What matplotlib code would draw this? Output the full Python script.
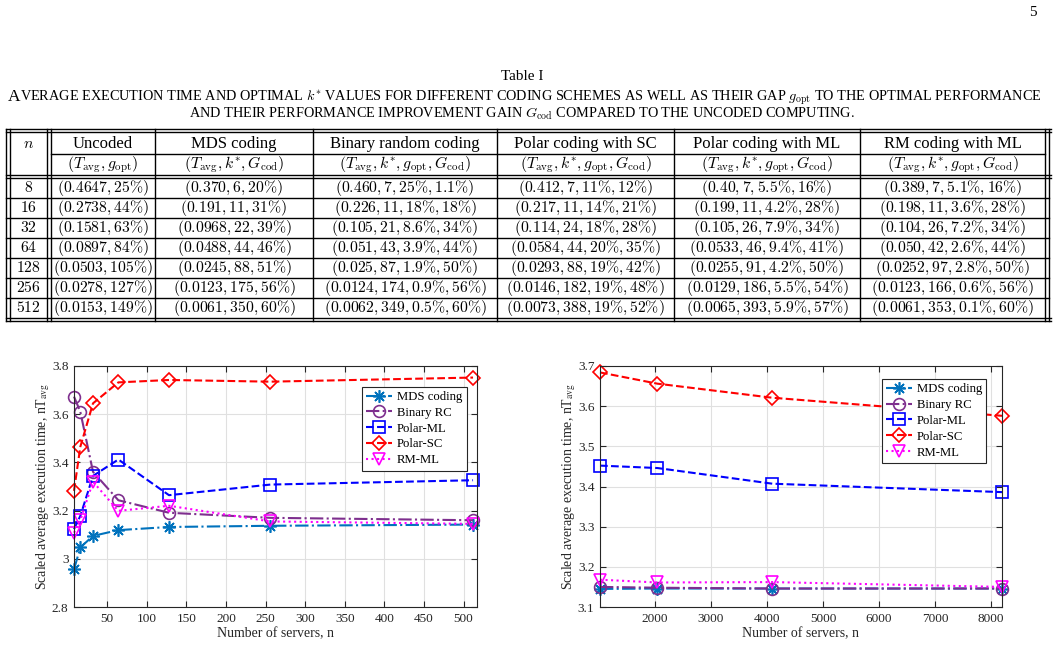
import matplotlib
matplotlib.use('Agg')
import matplotlib.pyplot as plt
from matplotlib.ticker import FuncFormatter

plt.rcParams['font.family'] = ['Liberation Serif', 'DejaVu Serif']
plt.rcParams['mathtext.fontset'] = 'cm'

W, H = 1057, 650

# ---------------- table data ----------------
n_rows = ['8', '16', '32', '64', '128', '256', '512']
col_titles = ['Uncoded', 'MDS coding', 'Binary random coding',
              'Polar coding with SC', 'Polar coding with ML', 'RM coding with ML']
col_subtitles = [r'$(T_{\rm avg}, g_{\rm opt})$',
                 r'$(T_{\rm avg}, k^{*}, G_{\rm cod})$',
                 r'$(T_{\rm avg}, k^{*}, g_{\rm opt}, G_{\rm cod})$',
                 r'$(T_{\rm avg}, k^{*}, g_{\rm opt}, G_{\rm cod})$',
                 r'$(T_{\rm avg}, k^{*}, g_{\rm opt}, G_{\rm cod})$',
                 r'$(T_{\rm avg}, k^{*}, g_{\rm opt}, G_{\rm cod})$']
uncoded = ['0.4647, 25%', '0.2738, 44%', '0.1581, 63%', '0.0897, 84%',
           '0.0503, 105%', '0.0278, 127%', '0.0153, 149%']
mds = ['0.370, 6, 20%', '0.191, 11, 31%', '0.0968, 22, 39%', '0.0488, 44, 46%',
       '0.0245, 88, 51%', '0.0123, 175, 56%', '0.0061, 350, 60%']
binary_rc = ['0.460, 7, 25%, 1.1%', '0.226, 11, 18%, 18%', '0.105, 21, 8.6%, 34%',
             '0.051, 43, 3.9%, 44%', '0.025, 87, 1.9%, 50%', '0.0124, 174, 0.9%, 56%',
             '0.0062, 349, 0.5%, 60%']
polar_sc = ['0.412, 7, 11%, 12%', '0.217, 11, 14%, 21%', '0.114, 24, 18%, 28%',
            '0.0584, 44, 20%, 35%', '0.0293, 88, 19%, 42%', '0.0146, 182, 19%, 48%',
            '0.0073, 388, 19%, 52%']
polar_ml = ['0.40, 7, 5.5%, 16%', '0.199, 11, 4.2%, 28%', '0.105, 26, 7.9%, 34%',
            '0.0533, 46, 9.4%, 41%', '0.0255, 91, 4.2%, 50%', '0.0129, 186, 5.5%, 54%',
            '0.0065, 393, 5.9%, 57%']
rm_ml = ['0.389, 7, 5.1%, 16%', '0.198, 11, 3.6%, 28%', '0.104, 26, 7.2%, 34%',
         '0.050, 42, 2.6%, 44%', '0.0252, 97, 2.8%, 50%', '0.0123, 166, 0.6%, 56%',
         '0.0061, 353, 0.1%, 60%']
table_cols = [uncoded, mds, binary_rc, polar_sc, polar_ml, rm_ml]

# ---------------- plot data ----------------
labels = ['MDS coding', 'Binary RC', 'Polar-ML', 'Polar-SC', 'RM-ML']

n_small = [8, 16, 32, 64, 128, 256, 512]
mds_small = [2.956, 3.047, 3.095, 3.119, 3.132, 3.137, 3.142]
binary_small = [3.673, 3.610, 3.361, 3.243, 3.191, 3.170, 3.160]
polar_ml_small = [3.123, 3.178, 3.344, 3.412, 3.264, 3.308, 3.326]
polar_sc_small = [3.282, 3.465, 3.645, 3.732, 3.742, 3.735, 3.752]
rm_ml_small = [3.108, 3.160, 3.320, 3.199, 3.220, 3.155, 3.145]

n_large = [1024, 2048, 4096, 8192]
mds_large = [3.145, 3.146, 3.146, 3.146]
binary_large = [3.150, 3.148, 3.146, 3.146]
polar_ml_large = [3.452, 3.446, 3.407, 3.386]
polar_sc_large = [3.684, 3.656, 3.621, 3.576]
rm_ml_large = [3.168, 3.161, 3.162, 3.150]

styles = [
    dict(color='#0072BD', ls='-.', marker=(8, 2, 0), ms=9, mew=1.2),
    dict(color='#7E2F8E', ls='-.', marker='o', ms=8.5, mfc='none', mew=1.2),
    dict(color='#0000FF', ls='--', marker='s', ms=8, mfc='none', mew=1.2),
    dict(color='#FF0000', ls='--', marker='D', ms=7, mfc='none', mew=1.2),
    dict(color='#FF00FF', ls=':', marker='v', ms=9, mfc='none', mew=1.2),
]

fig = plt.figure(figsize=(W / 100, H / 100), dpi=100)

# page in pixel coordinates
page = fig.add_axes([0, 0, 1, 1])
page.set_xlim(0, W)
page.set_ylim(H, 0)
page.axis('off')

page.text(1033, 13, '5', fontsize=11, ha='center', va='center')
page.text(522, 76, 'Table I', fontsize=11, ha='center', va='center')

# caption in (fake) small caps
cap_fs = 10.25
renderer = fig.canvas.get_renderer()
a = page.text(8, 101, 'A', fontsize=12.5, ha='left', va='baseline')
aw = a.get_window_extent(renderer).width
page.text(8 + aw, 101,
          r'VERAGE EXECUTION TIME AND OPTIMAL $k^{*}$ VALUES FOR DIFFERENT CODING SCHEMES '
          r'AS WELL AS THEIR GAP $g_{\rm opt}$ TO THE OPTIMAL PERFORMANCE',
          fontsize=cap_fs, ha='left', va='baseline')
page.text(522, 118,
          r'AND THEIR PERFORMANCE IMPROVEMENT GAIN $G_{\rm cod}$ COMPARED TO THE UNCODED COMPUTING.',
          fontsize=cap_fs, ha='center', va='baseline')

# table rules
lw = 1.0
x_left, x_right = 6, 1051
for y in (129, 132, 175, 178, 318, 321):
    page.plot([x_left, x_right], [y, y], color='black', lw=lw)
page.plot([50.5, 1045], [154, 154], color='black', lw=lw)
row_top = 178
row_h = 20
for i in range(1, len(n_rows)):
    y = row_top + i * row_h
    page.plot([6, 1048.5], [y, y], color='black', lw=lw)
col_edges = [9.5, 50.5, 155, 313, 497, 674, 860, 1045]
for x in [6, 9.5, 47, 50.5, 155, 313, 497, 674, 860, 1045, 1048.5]:
    page.plot([x, x], [129, 321], color='black', lw=lw)

hfs = 12
mfs = 11.3
page.text((9.5 + 47) / 2, 144, r'$n$', fontsize=mfs, ha='center', va='center')
for j in range(len(col_titles)):
    cx = (col_edges[j + 1] + col_edges[j + 2]) / 2
    page.text(cx, 144, col_titles[j], fontsize=hfs, ha='center', va='center')
    page.text(cx, 165, col_subtitles[j], fontsize=mfs, ha='center', va='center')
    for i, s in enumerate(table_cols[j]):
        page.text(cx, row_top + (i + 0.5) * row_h, '$(' + s.replace('%', r'\%') + ')$',
                  fontsize=mfs, ha='center', va='center')
for i, s in enumerate(n_rows):
    page.text((9.5 + 47) / 2, row_top + (i + 0.5) * row_h, '$' + s + '$',
              fontsize=mfs, ha='center', va='center')


def ax_rect(x0, y0, x1, y1):
    return [x0 / W, 1 - y1 / H, (x1 - x0) / W, (y1 - y0) / H]


def style_axes(ax):
    for sp in ax.spines.values():
        sp.set_color('0.15')
        sp.set_linewidth(0.8)
    ax.tick_params(direction='in', length=4, width=0.8, colors='0.15',
                   labelsize=9.5, top=True, right=True, pad=4)
    ax.grid(True, color='0.88', lw=0.8)
    ax.set_axisbelow(True)
    ax.yaxis.set_major_formatter(FuncFormatter(lambda v, p: f'{v:g}'))
    ax.set_xlabel('Number of servers, n', fontsize=10, color='0.15', labelpad=2)
    ax.set_ylabel(r'Scaled average execution time, nT$_{\rm avg}$', fontsize=10,
                  color='0.15', math_fontfamily='stix', labelpad=0)


def add_legend(ax, x_right_px, y_top_px, ax_x0, ax_w):
    leg = ax.legend(loc='upper right',
                    bbox_to_anchor=((x_right_px - ax_x0) / ax_w, 1 - (y_top_px - 366) / 241),
                    borderaxespad=0, fontsize=9.2, fancybox=False, framealpha=1,
                    edgecolor='0.15', handlelength=2.0, handletextpad=0.4,
                    labelspacing=0.3, borderpad=0.35)
    leg.get_frame().set_linewidth(0.8)


# left plot
ax1 = fig.add_axes(ax_rect(74, 366, 477, 607))
for ys, lab, st in zip([mds_small, binary_small, polar_ml_small, polar_sc_small, rm_ml_small],
                       labels, styles):
    ax1.plot(n_small, ys, label=lab, lw=1.5, clip_on=False, **st)
ax1.set_xlim(8, 517)
ax1.set_ylim(2.8, 3.8)
ax1.set_xticks(range(50, 501, 50))
ax1.set_yticks([2.8, 3.0, 3.2, 3.4, 3.6, 3.8])
style_axes(ax1)
add_legend(ax1, 467, 386.5, 74, 403)

# right plot
ax2 = fig.add_axes(ax_rect(600, 366, 1002, 607))
for ys, lab, st in zip([mds_large, binary_large, polar_ml_large, polar_sc_large, rm_ml_large],
                       labels, styles):
    ax2.plot(n_large, ys, label=lab, lw=1.5, clip_on=False, **st)
ax2.set_xlim(1024, 8192)
ax2.set_ylim(3.1, 3.7)
ax2.set_xticks(range(2000, 8001, 1000))
ax2.set_yticks([3.1, 3.2, 3.3, 3.4, 3.5, 3.6, 3.7])
style_axes(ax2)
add_legend(ax2, 986.5, 378.7, 600, 402)

fig.savefig('out.png', dpi=100)
